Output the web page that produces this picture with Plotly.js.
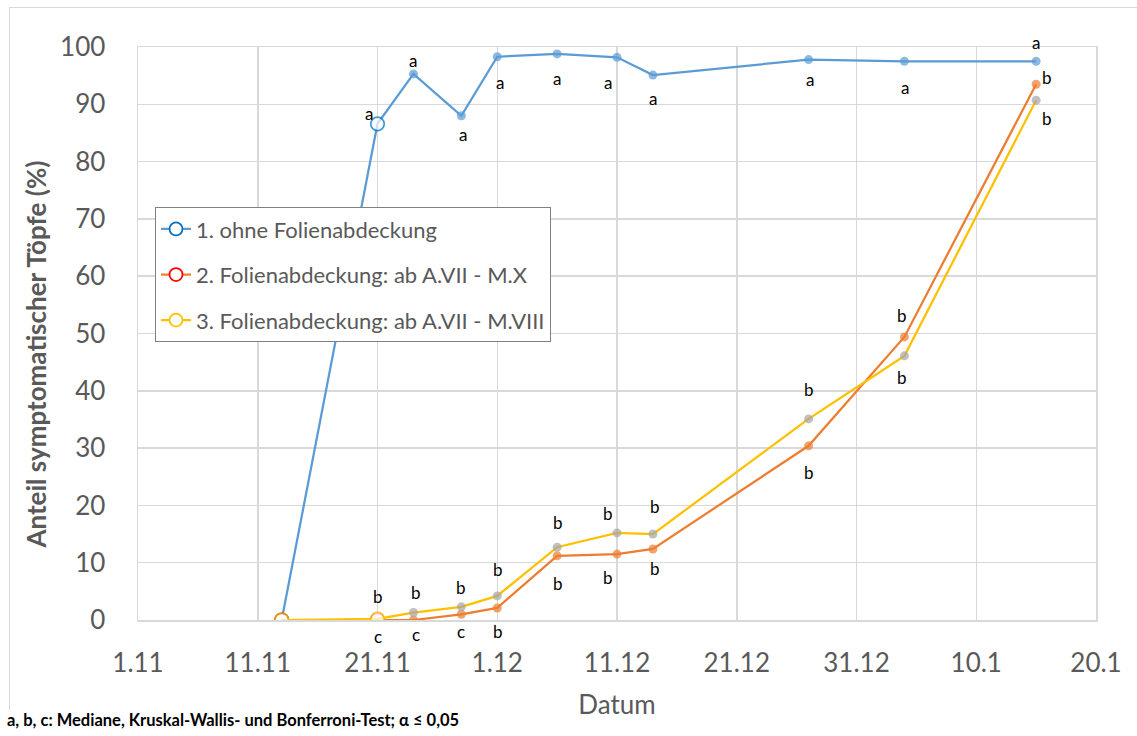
<!DOCTYPE html>
<html>
<head>
<meta charset="utf-8">
<script src="https://cdn.plot.ly/plotly-3.0.1.min.js"></script>
<style>
  html, body { margin: 0; padding: 0; background: #ffffff; }
  #chart { position: absolute; left: 0; top: 0; width: 1137px; height: 736px; }
  #frame { position: absolute; left: 9px; top: 7px; width: 1200px; height: 702px;
           border-left: 1.5px solid #d9d9d9; border-top: 1.5px solid #d9d9d9; pointer-events: none; }
</style>
</head>
<body>
<div id="chart"></div>
<div id="frame"></div>
<script>
// ---------- data ----------
const dates = ['2019-11-13', '2019-11-21', '2019-11-24', '2019-11-28', '2019-12-01', '2019-12-06',
               '2019-12-11', '2019-12-14', '2019-12-27', '2020-01-04', '2020-01-15'];
const seriesNames = ['1. ohne Folienabdeckung',
                     '2. Folienabdeckung: ab A.VII - M.X',
                     '3. Folienabdeckung: ab A.VII - M.VIII'];
const ohneFolie  = [0, 86.6, 95.3, 88.0, 98.3, 98.8, 98.2, 95.1, 97.8, 97.5, 97.5];
const folieMX    = [0, 0.0, 0.0, 1.0, 2.1, 11.2, 11.5, 12.4, 30.4, 49.4, 93.5];
const folieMVIII = [0, 0.2, 1.3, 2.3, 4.2, 12.7, 15.2, 15.0, 35.1, 46.1, 90.7];
// significance letters (empty = none)
const lettersOhne  = ['', 'a', 'a', 'a', 'a', 'a', 'a', 'a', 'a', 'a', 'a'];
const lettersMX    = ['', 'c', 'c', 'c', 'b', 'b', 'b', 'b', 'b', 'b', 'b'];
const lettersMVIII = ['', 'b', 'b', 'b', 'b', 'b', 'b', 'b', 'b', 'b', 'b'];
// points drawn as open (hollow) markers
const hollowOhne  = [true, true, false, false, false, false, false, false, false, false, false];
const hollowMX    = [true, true, false, false, false, false, false, false, false, false, false];
const hollowMVIII = [true, true, false, false, false, false, false, false, false, false, false];
const footnote = 'a, b, c: Mediane, Kruskal-Wallis- und Bonferroni-Test; α ≤ 0,05';
const xTitle = 'Datum';
const yTitle = 'Anteil symptomatischer Töpfe (%)';

// ---------- style ----------
const FONT = 'Lato, "Open Sans", sans-serif';
const styles = [
  {line: '#5B9BD5', fill: '#5B9BD5', open: '#0070C0'},
  {line: '#ED7D31', fill: '#ED7D31', open: '#FF0000'},
  {line: '#FFC000', fill: '#A5A5A5', open: '#FFC000'}
];
// label offsets [dx, dy] in pixels (dy positive = downward)
const offOhne  = [[0,0],[-9,-10],[0,-13],[2,19],[3,26],[0,25],[-9,25],[0,23],[1,20],[1,26],[0,-19]];
const offMX    = [[0,0],[0,16],[3,14],[0,17],[1,24],[1,28],[-9,23],[2,20],[0,27],[-2,-21],[11,-7]];
const offMVIII = [[0,0],[0,-22],[3,-20],[0,-19],[1,-26],[1,-25],[-9,-19],[2,-28],[0,-29],[-2,22],[11,18]];

const allY = [ohneFolie, folieMX, folieMVIII];
const allHollow = [hollowOhne, hollowMX, hollowMVIII];
const allLetters = [lettersOhne, lettersMX, lettersMVIII];
const allOff = [offOhne, offMX, offMVIII];

const traces = [];
allY.forEach((ys, i) => {
  const s = styles[i];
  const h = allHollow[i];
  traces.push({
    type: 'scatter', mode: 'lines+markers', x: dates, y: ys,
    name: seriesNames[i], showlegend: false, hoverinfo: 'x+y',
    line: {color: s.line, width: 2.25},
    marker: {
      symbol: 'circle',
      size: h.map(v => v ? 13.5 : 9),
      color: h.map(v => v ? '#ffffff' : s.fill),
      line: {color: h.map(v => v ? s.open : s.fill), width: h.map(v => v ? 1.75 : 0)}
    }
  });
});
// legend entries
allY.forEach((ys, i) => {
  const s = styles[i];
  traces.push({
    type: 'scatter', mode: 'lines+markers', x: [null], y: [null],
    name: seriesNames[i], legendgroup: 'g' + i, showlegend: true,
    line: {color: s.line, width: 2.25},
    marker: {symbol: 'circle', size: 13, color: '#ffffff', line: {color: s.open, width: 1.75}}
  });
});

const annotations = [];
allLetters.forEach((lets, i) => {
  lets.forEach((t, j) => {
    if (!t) return;
    annotations.push({
      x: dates[j], y: allY[i][j], xref: 'x', yref: 'y', text: t, showarrow: false,
      xshift: allOff[i][j][0], yshift: -allOff[i][j][1],
      font: {family: FONT, size: 17, color: '#000000'}
    });
  });
});
annotations.push({
  xref: 'paper', yref: 'paper', x: (5 - 138) / 958, y: (620.3 - 720) / 573.6,
  xanchor: 'left', yanchor: 'middle', showarrow: false, text: footnote,
  font: {family: FONT, size: 16.5, color: '#000000', weight: 'bold'}
});
// y axis title
annotations.push({
  xref: 'paper', yref: 'paper', x: (35 - 138) / 958, y: 0.5, yshift: -21,
  xanchor: 'center', yanchor: 'middle', textangle: -90, showarrow: false, text: yTitle,
  font: {family: FONT, size: 26, color: '#595959', weight: 'bold'}
});

const layout = {
  width: 1137, height: 736,
  margin: {l: 138, r: 41, t: 47, b: 116, pad: 0},
  paper_bgcolor: 'rgba(255,255,255,0)', plot_bgcolor: '#ffffff',
  font: {family: FONT, color: '#595959'},
  showlegend: true,
  legend: {
    x: (155 - 138) / 958, y: (620.3 - 207) / 573.6, xanchor: 'left', yanchor: 'top',
    bgcolor: '#ffffff', bordercolor: '#808080', borderwidth: 1,
    font: {family: FONT, size: 22, color: '#595959'},
    traceorder: 'grouped', tracegroupgap: 14, itemwidth: 30
  },
  xaxis: {
    type: 'date', range: ['2019-11-01', '2020-01-20'],
    tick0: '2019-11-01', dtick: 864000000, tickformat: '%-d.%-m',
    showgrid: true, gridcolor: '#d9d9d9', gridwidth: 1.5,
    showline: true, linecolor: '#d9d9d9', linewidth: 1.5, mirror: true,
    zeroline: false, ticks: '', ticklabelstandoff: 19,
    tickfont: {family: FONT, size: 26, color: '#595959'},
    title: {text: xTitle, font: {family: FONT, size: 26, color: '#595959'}, standoff: 19}
  },
  yaxis: {
    range: [0, 100], dtick: 10, tick0: 0,
    showgrid: true, gridcolor: '#d9d9d9', gridwidth: 1.5,
    showline: true, linecolor: '#d9d9d9', linewidth: 1.5, mirror: true,
    zeroline: false, ticks: '', ticklabelstandoff: 26,
    tickfont: {family: FONT, size: 26, color: '#595959'}
  },
  annotations: annotations
};

Plotly.newPlot('chart', traces, layout, {displayModeBar: false, staticPlot: true});
</script>
</body>
</html>
